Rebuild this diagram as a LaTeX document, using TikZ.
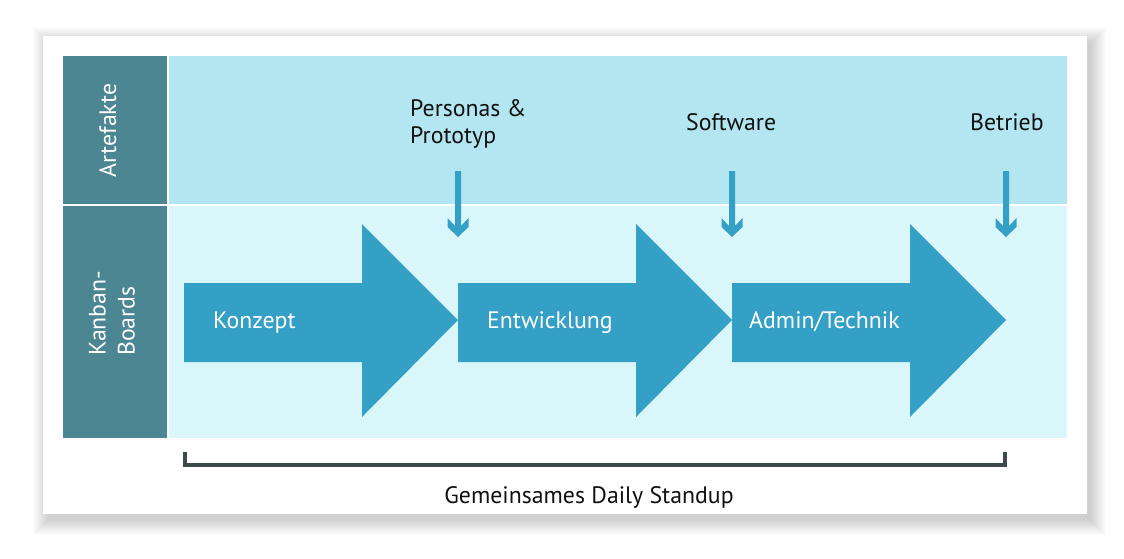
\documentclass[tikz,border=0pt]{standalone}
\usepackage{fontspec}
\setmainfont{PT Sans}
\definecolor{headteal}{HTML}{4B8692}
\definecolor{artcyan}{HTML}{B3E6F0}
\definecolor{boardcyan}{HTML}{D9F7FB}
\definecolor{flowblue}{HTML}{35A0C6}
\definecolor{bracketgray}{HTML}{3D4A4C}
\definecolor{textgray}{HTML}{111111}

\begin{document}
\begin{tikzpicture}[
    x=1pt, y=-1pt,
    txt/.style={font=\fontsize{23.8}{27}\selectfont, text=textgray, inner sep=0pt},
    headtxt/.style={font=\fontsize{23.8}{29}\selectfont, text=white, inner sep=0pt, rotate=90},
    flowtxt/.style={font=\fontsize{23.8}{27}\selectfont, text=white, inner sep=0pt, anchor=base west},
    bracketline/.style={draw=bracketgray, line width=4pt}
    ]
    \useasboundingbox (0,0) rectangle (1124,558);

    % card with soft shadow
    \foreach \i in {1,...,16}
      \fill[black, opacity=0.011] (49-\i, 43-\i) rectangle (1090+\i, 519+\i);
    \fill[white] (43,36) rectangle (1087,514);

    % rows
    \fill[headteal] (63,56) rectangle (167,204);
    \fill[headteal] (63,206) rectangle (167,438);
    \fill[artcyan] (169,56) rectangle (1067,204);
    \fill[boardcyan] (169,206) rectangle (1067,438);

    \node (artefakte) [headtxt, anchor=base] at (116,130.5) {Artefakte};
    \node (kanban) [headtxt, anchor=west, align=left] at (112,356) {Kanban-\\Boards};

    % phases
    \foreach \x/\dx/\name/\label in {184/29/konzept/Konzept, 458/29/entwicklung/Entwicklung, 732/17/admin/{Admin/Technik}} {
      \fill[flowblue] (\x,283) -- (\x+178,283) -- (\x+178,224) -- (\x+274,320)
        -- (\x+178,417) -- (\x+178,362) -- (\x,362) -- cycle;
      \node (\name) [flowtxt] at (\x+\dx,328) {\label};
    }

    % artefacts
    \node (personas) [txt, anchor=base west, align=left] at (410,143) {Personas \&\\Prototyp};
    \node (software) [txt, anchor=base west] at (686,130) {Software};
    \node (betrieb) [txt, anchor=base west] at (970,130) {Betrieb};

    \foreach \x in {458,732,1006}
      \fill[flowblue] (\x-3,171) -- (\x+3,171) -- (\x+3,226) -- (\x+10.5,218)
        -- (\x+10.5,227) -- (\x,237) -- (\x-10.5,227) -- (\x-10.5,218)
        -- (\x-3,226) -- cycle;

    % standup
    \coordinate (bl) at (185,452);
    \coordinate (br) at (1005,452);
    \draw[bracketline] (bl) -- ++(0,13) -| (br);
    \node (standup) [txt, anchor=base] at (589,503) {Gemeinsames Daily Standup};
\end{tikzpicture}
\end{document}
